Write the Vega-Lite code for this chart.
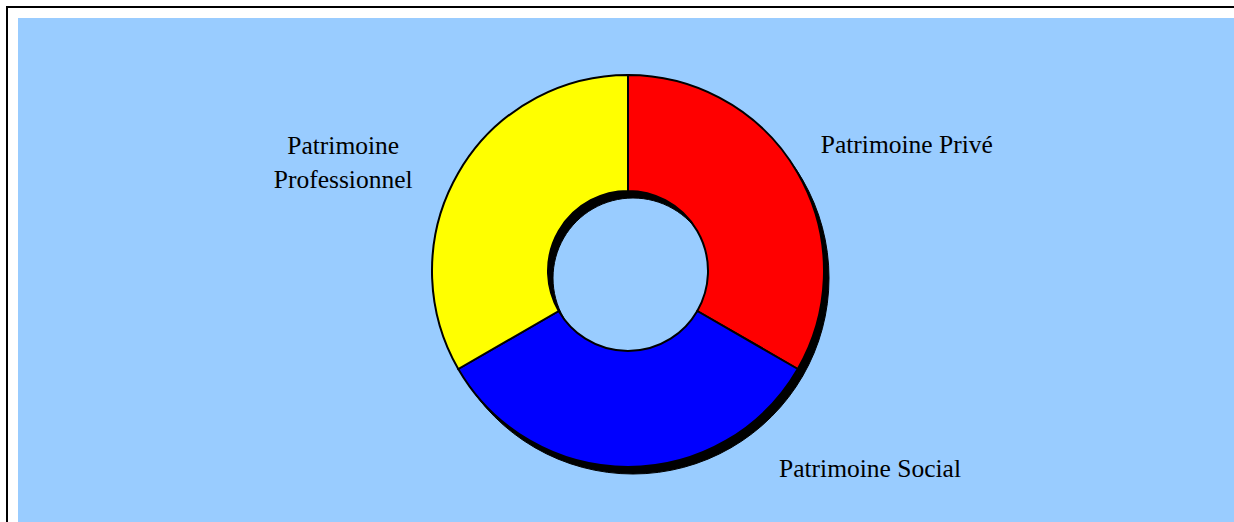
{
  "$schema": "https://vega.github.io/schema/vega-lite/v6.json",
  "width": 1242,
  "height": 528,
  "autosize": {"type": "none"},
  "padding": {"left": 7, "top": 7, "right": 0, "bottom": 0},
  "background": "white",
  "config": {"view": {"stroke": null}},
  "data": {
    "values": [
      {"category": "Patrimoine Privé", "value": 1, "rank": 1},
      {"category": "Patrimoine Social", "value": 1, "rank": 2},
      {"category": "Patrimoine Professionnel", "value": 1, "rank": 3}
    ]
  },
  "layer": [
    {
      "mark": {"type": "rect", "fill": "#99CCFF", "stroke": "white", "strokeWidth": 22},
      "encoding": {}
    },
    {
      "mark": {"type": "rect", "fill": null, "fillOpacity": 0, "stroke": "black", "strokeWidth": 2},
      "encoding": {}
    },
    {
      "mark": {"type": "arc", "outerRadius": 196, "innerRadius": 80, "fill": "black", "stroke": "black", "strokeWidth": 1, "xOffset": 5, "yOffset": 7},
      "encoding": {
        "theta": {"field": "value", "type": "quantitative", "stack": true},
        "order": {"field": "rank", "type": "quantitative"},
        "detail": {"field": "category", "type": "nominal"}
      }
    },
    {
      "mark": {"type": "arc", "outerRadius": 196, "innerRadius": 80, "stroke": "black", "strokeWidth": 2},
      "encoding": {
        "theta": {"field": "value", "type": "quantitative", "stack": true},
        "order": {"field": "rank", "type": "quantitative"},
        "color": {
          "field": "category",
          "type": "nominal",
          "legend": null,
          "scale": {
            "domain": ["Patrimoine Privé", "Patrimoine Social", "Patrimoine Professionnel"],
            "range": ["#FF0000", "#0000FF", "#FFFF00"]
          }
        }
      }
    },
    {
      "mark": {"type": "text", "radius": 300, "dx": 19, "dy": 32, "align": "center", "baseline": "alphabetic", "font": "Liberation Serif", "fontSize": 25.5, "color": "black"},
      "encoding": {
        "theta": {"field": "value", "type": "quantitative", "stack": true},
        "order": {"field": "rank", "type": "quantitative"},
        "detail": {"field": "category", "type": "nominal"},
        "text": {"condition": {"test": "datum.category === 'Patrimoine Privé'", "field": "category", "type": "nominal"}, "value": ""}
      }
    },
    {
      "mark": {"type": "text", "radius": 200, "dx": 242, "dy": 6, "align": "center", "baseline": "alphabetic", "font": "Liberation Serif", "fontSize": 25.5, "color": "black"},
      "encoding": {
        "theta": {"field": "value", "type": "quantitative", "stack": true},
        "order": {"field": "rank", "type": "quantitative"},
        "detail": {"field": "category", "type": "nominal"},
        "text": {"condition": {"test": "datum.category === 'Patrimoine Social'", "field": "category", "type": "nominal"}, "value": ""}
      }
    },
    {
      "mark": {"type": "text", "radius": 300, "dx": -25, "dy": 33, "align": "center", "baseline": "alphabetic", "font": "Liberation Serif", "fontSize": 25.5, "lineBreak": " ", "lineHeight": 34, "color": "black"},
      "encoding": {
        "theta": {"field": "value", "type": "quantitative", "stack": true},
        "order": {"field": "rank", "type": "quantitative"},
        "detail": {"field": "category", "type": "nominal"},
        "text": {"condition": {"test": "datum.category === 'Patrimoine Professionnel'", "field": "category", "type": "nominal"}, "value": ""}
      }
    }
  ]
}
